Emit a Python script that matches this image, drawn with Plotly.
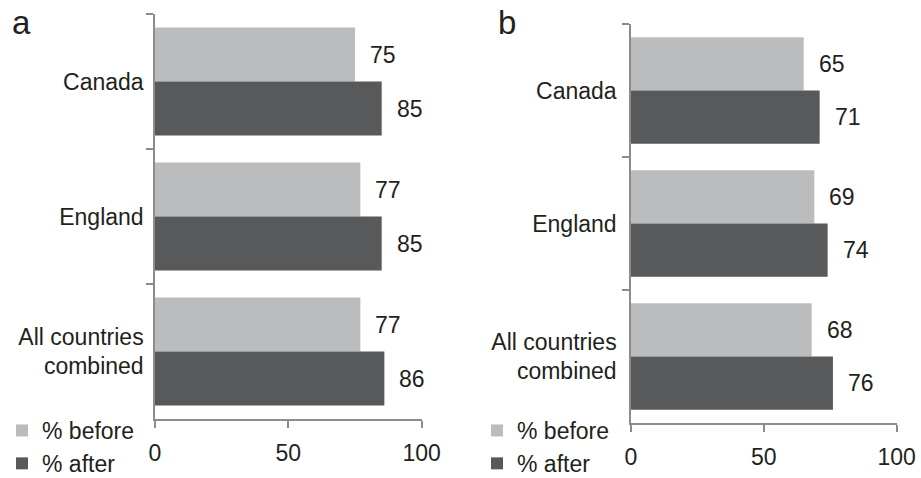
import plotly.graph_objects as go

# Survey results: share of respondents before and after, by country
categories = ["Canada", "England", "All countries<br>combined"]
before_a = [75, 77, 77]
after_a = [85, 85, 86]
before_b = [65, 69, 68]
after_b = [71, 74, 76]
x_ticks = [0, 50, 100]
panel_labels = ["a", "b"]

W, H = 921, 478
FONT = "Liberation Sans, Arial, Helvetica, sans-serif"
TXT = "#231f20"
LIGHT = "#bbbcbe"
DARK = "#58595b"
AXIS = "#8c8c8c"

fig = go.Figure()

panels = [
    dict(before=before_a, after=after_a, xa="x", ya="y", legend="legend"),
    dict(before=before_b, after=after_b, xa="x2", ya="y2", legend="legend2"),
]

for p in panels:
    fig.add_trace(go.Bar(
        y=categories, x=p["before"], orientation="h", name="% before",
        marker=dict(color=LIGHT, line=dict(width=0)),
        xaxis=p["xa"], yaxis=p["ya"], legend=p["legend"],
    ))
    fig.add_trace(go.Bar(
        y=categories, x=p["after"], orientation="h", name="% after",
        marker=dict(color=DARK, line=dict(width=0)),
        xaxis=p["xa"], yaxis=p["ya"], legend=p["legend"],
    ))
    # value labels to the right of each bar
    for i in range(len(categories)):
        for val, off in ((p["before"][i], -0.2), (p["after"][i], 0.2)):
            fig.add_annotation(
                x=val, y=i + off, xref=p["xa"], yref=p["ya"],
                text=str(val), showarrow=False, xanchor="left", yanchor="middle",
                xshift=13, font=dict(size=23, color=TXT, family=FONT),
            )

def px_x(v):
    return v / W

def px_y(v):
    return 1 - v / H

xaxis_common = dict(
    range=[0, 100], tickvals=x_ticks, showgrid=False, zeroline=False,
    showline=True, linecolor=AXIS, linewidth=1.5,
    ticks="outside", ticklen=7, tickcolor=AXIS, tickwidth=1.5,
    tickfont=dict(size=23, color=TXT, family=FONT), ticklabelstandoff=6,
    automargin=False,
)
yaxis_common = dict(
    type="category", autorange="reversed", showgrid=False, zeroline=False,
    showline=True, linecolor=AXIS, linewidth=1.5,
    ticks="outside", ticklen=7, tickcolor=AXIS, tickwidth=1.5,
    tickson="boundaries", tickfont=dict(size=23, color=TXT, family=FONT),
    automargin=False,
)

legend_common = dict(
    xanchor="left", yanchor="top", bgcolor="rgba(0,0,0,0)",
    font=dict(size=23, color=TXT, family=FONT), itemwidth=30, tracegroupgap=0,
)

fig.update_layout(
    width=W, height=H,
    margin=dict(l=0, r=0, t=0, b=0, autoexpand=False),
    paper_bgcolor="white", plot_bgcolor="white",
    barmode="group", bargap=0.2, bargroupgap=0,
    font=dict(family=FONT, size=23, color=TXT),
    xaxis=dict(domain=[px_x(155), px_x(421.7)], anchor="y", **xaxis_common),
    yaxis=dict(domain=[px_y(419), px_y(14)], anchor="x", ticklabelstandoff=5,
               **yaxis_common),
    xaxis2=dict(domain=[px_x(631), px_x(896.7)], anchor="y2", **xaxis_common),
    yaxis2=dict(domain=[px_y(423), px_y(24)], anchor="x2", ticklabelstandoff=8,
                **yaxis_common),
    legend=dict(x=px_x(2), y=px_y(409), **legend_common),
    legend2=dict(x=px_x(477), y=px_y(409), **legend_common),
    showlegend=True,
)

# panel letters
for label, x0, y0 in ((panel_labels[0], 10, 2), (panel_labels[1], 496, 2)):
    fig.add_annotation(
        x=px_x(x0), y=px_y(y0), xref="paper", yref="paper",
        text=label, showarrow=False, xanchor="left", yanchor="top",
        font=dict(size=33, color=TXT, family=FONT),
    )

fig.write_html("out.html")
